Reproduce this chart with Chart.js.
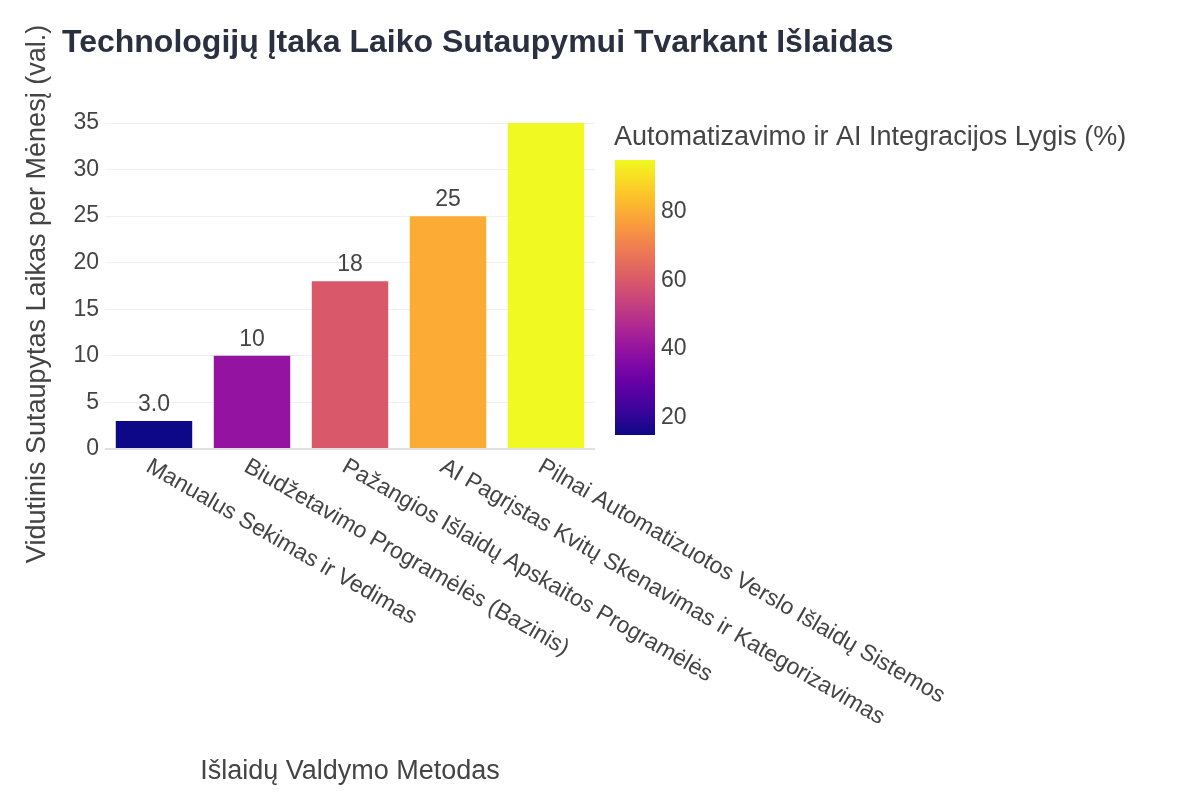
<!DOCTYPE html>
<html><head><meta charset="utf-8">
<script src="https://cdn.jsdelivr.net/npm/chart.js@4"></script>
<style>body{margin:0;background:#fff}#w{width:1200px;height:800px}</style>
</head><body><div id="w"><canvas id="c"></canvas></div>
<script>
const categories = ["Manualus Sekimas ir Vedimas","Biudžetavimo Programėlės (Bazinis)","Pažangios Išlaidų Apskaitos Programėlės","AI Pagrįstas Kvitų Skenavimas ir Kategorizavimas","Pilnai Automatizuotos Verslo Išlaidų Sistemos"];
const timeSaved = [3, 10, 18, 25, 35];
const automationLevel = [15, 40, 60, 80, 95];
const colorTicks = [20, 40, 60, 80];
const cmin = 15, cmax = 95;
const plasma = ["#0d0887","#46039f","#7201a8","#9c179e","#bd3786","#d8576b","#ed7953","#fb9f3a","#fdca26","#f0f921"];
function hex(h){return [1,3,5].map(i=>parseInt(h.substr(i,2),16));}
function plasmaColor(t){t=Math.max(0,Math.min(1,t));const p=t*(plasma.length-1);const i=Math.min(Math.floor(p),plasma.length-2);const f=p-i;const a=hex(plasma[i]),b=hex(plasma[i+1]);return `rgb(${a.map((v,k)=>Math.round(v+(b[k]-v)*f)).join(',')})`;}
const barColors = automationLevel.map(v=>plasmaColor((v-cmin)/(cmax-cmin)));
const txt = '#2a3040', F = 'Arial, "Liberation Sans", sans-serif';

const deco = {
  id:'deco',
  afterDraw(ch){
    const ctx=ch.ctx, x=ch.scales.x, y=ch.scales.y, a=ch.chartArea;
    ctx.save();
    ctx.fillStyle=txt; ctx.font='bold 32px '+F; ctx.textBaseline='middle'; ctx.textAlign='left';
    ctx.fillText('Technologijų Įtaka Laiko Sutaupymui Tvarkant Išlaidas',62,43);
    ctx.save(); ctx.beginPath(); ctx.rect(0,114,1200,700); ctx.clip();
    ctx.font='23px '+F; ctx.fillStyle='#444'; ctx.textAlign='center'; ctx.textBaseline='bottom';
    timeSaved.forEach((v,i)=>{ctx.fillText(v<10?v.toFixed(1):String(v),x.getPixelForValue(i),y.getPixelForValue(v)-5);});
    ctx.restore();
    ctx.font='23px '+F; ctx.fillStyle='#444'; ctx.textAlign='left'; ctx.textBaseline='middle';
    categories.forEach((c,i)=>{ctx.save();ctx.translate(x.getPixelForValue(i)-6,a.bottom+16);ctx.rotate(Math.PI/6);ctx.fillText(c,0,0);ctx.restore();});
    ctx.font='27px '+F; ctx.fillStyle='#444'; ctx.textAlign='center';
    ctx.fillText('Išlaidų Valdymo Metodas',(a.left+a.right)/2,772);
    ctx.save(); ctx.translate(38,(a.top+a.bottom)/2+8); ctx.rotate(-Math.PI/2);
    ctx.fillText('Vidutinis Sutaupytas Laikas per Mėnesį (val.)',0,0); ctx.restore();
    const cx=615,cw=40,top=160,bot=435;
    const g=ctx.createLinearGradient(0,bot,0,top);
    for(let k=0;k<=20;k++) g.addColorStop(k/20,plasmaColor(k/20));
    ctx.fillStyle=g; ctx.fillRect(cx,top,cw,bot-top);
    ctx.fillStyle='#444'; ctx.font='23px '+F; ctx.textAlign='left';
    colorTicks.forEach(v=>{ctx.fillText(String(v),cx+cw+6,bot-(v-cmin)/(cmax-cmin)*(bot-top));});
    ctx.font='27px '+F; ctx.fillText('Automatizavimo ir AI Integracijos Lygis (%)',614,138);
    ctx.restore();
  }
};

new Chart(document.getElementById('c'),{
  type:'bar',
  data:{labels:categories,datasets:[{data:timeSaved,backgroundColor:barColors,barPercentage:0.78,categoryPercentage:1}]},
  options:{
    responsive:true,maintainAspectRatio:false,animation:false,
    layout:{padding:{top:123,right:605,left:0,bottom:0}},
    plugins:{legend:{display:false},tooltip:{enabled:false}},
    scales:{
      x:{ticks:{display:false},grid:{display:false},border:{display:false},afterFit(s){s.height=351;}},
      y:{min:0,max:35,ticks:{stepSize:5,color:'#444',font:{size:23,family:F},padding:6},
         grid:{color:c=>c.tick.value===0?'#e0e0e0':'#eef0f3',lineWidth:c=>c.tick.value===0?2:1,drawTicks:false},
         border:{display:false},afterFit(s){s.width=105;}}
    }
  },
  plugins:[deco]
});
</script></body></html>
